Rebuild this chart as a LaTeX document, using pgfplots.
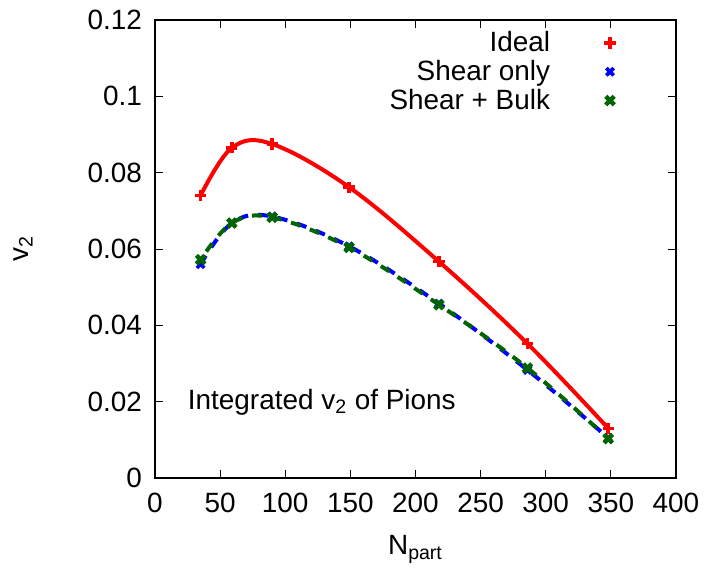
\documentclass[border=0pt]{standalone}
\usepackage{pgfplots}
\pgfplotsset{compat=1.18}
\usepackage{fontspec}
\setmainfont{Liberation Sans}
\definecolor{gpred}{RGB}{255,0,0}
\definecolor{gpblue}{RGB}{0,0,255}
\definecolor{gpgreen}{RGB}{0,100,0}
\begin{document}
\begin{tikzpicture}
\begin{axis}[
  scale only axis,
  width=260.5bp, height=229bp,
  xmin=0, xmax=400, ymin=0, ymax=0.12,
  xtick={0,50,...,400},
  ytick={0,0.02,...,0.12},
  yticklabel style={/pgf/number format/fixed,/pgf/number format/precision=2, xshift=-3bp},
  xticklabel style={yshift=-4bp},
  /pgf/number format/assume math mode=true,
  tick label style={font=\fontsize{14}{16}\selectfont},
  tick align=inside,
  major tick length=4bp,
  tick style={black, line width=0.5bp},
  axis line style={line width=0.8bp},
  xlabel={N\textsubscript{part}},
  ylabel={v\textsubscript{2}},
  label style={font=\fontsize{14}{16}\selectfont},
  xlabel style={at={(axis description cs:0.5,-0.168)}, anchor=base},
  ylabel style={at={(axis description cs:-0.253,0.5)}, anchor=center},
  legend plot pos=right,
  legend cell align=right,
  legend style={draw=none, fill=none, at={(rel axis cs:1,1)}, anchor=north east,
    xshift=-30bp, yshift=-3.5bp,
    font=\fontsize{14}{16}\selectfont, row sep=-1.2bp, inner sep=0pt},
  legend image code/.code={\path[draw=none,fill=none] (0bp,-3bp) rectangle (28bp,3bp); \draw[#1] plot coordinates {(28bp,0bp)};},
  clip=false,
]
% curves
\addplot[gpred, line width=2bp, smooth, tension=0.6, forget plot] coordinates {
(35,0.0740) (59,0.0865) (90,0.0875) (149,0.0762) (218,0.0567) (286,0.0352) (348,0.0130)};
\addplot[gpblue, line width=2bp, smooth, tension=0.6, dash pattern=on 5bp off 5bp, forget plot] coordinates {
(35,0.0560) (59,0.0668) (90,0.0685) (149,0.0607) (218,0.0457) (286,0.0283) (348,0.0105)};
\addplot[gpgreen, line width=2bp, smooth, tension=0.6, dash pattern=on 5bp off 5bp, dash phase=5bp, forget plot] coordinates {
(35,0.0572) (59,0.0668) (90,0.0683) (149,0.0604) (218,0.0454) (286,0.0288) (348,0.0103)};
% points
\addplot[gpred, only marks, mark=+, mark size=2.8bp, line width=1.8bp] coordinates {
(35,0.0740) (59,0.0865) (90,0.0875) (149,0.0762) (218,0.0567) (286,0.0352) (348,0.0130)};
\addlegendentry{Ideal}
\addplot[gpblue, only marks, mark=x, mark size=2.6bp, line width=1.8bp] coordinates {
(35,0.0560) (59,0.0668) (90,0.0685) (149,0.0607) (218,0.0457) (286,0.0283) (348,0.0105)};
\addlegendentry{Shear only}
\addplot[gpgreen, only marks, mark=x, mark size=3bp, line width=2.2bp] coordinates {
(35,0.0572) (59,0.0668) (90,0.0683) (149,0.0604) (218,0.0454) (286,0.0288) (348,0.0103)};
\addlegendentry{Shear + Bulk}
\node[anchor=west, font=\fontsize{14}{16}\selectfont, inner sep=0pt] at (axis cs:25,0.0199) {Integrated v\textsubscript{2} of Pions};
\end{axis}
\pgfresetboundingbox
\path[use as bounding box] (-77.5bp,-48bp) rectangle (277.5bp,239bp);
\end{tikzpicture}
\end{document}
